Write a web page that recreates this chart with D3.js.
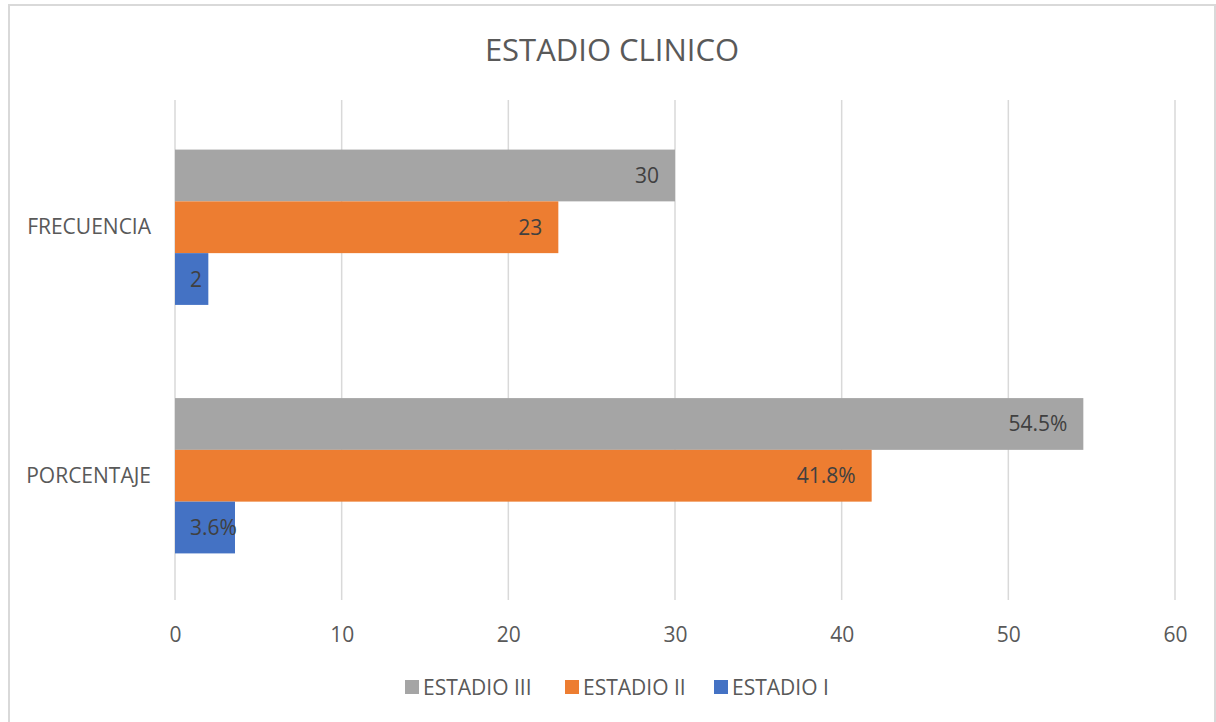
<!DOCTYPE html>
<html>
<head>
<meta charset="utf-8">
<script src="https://cdn.jsdelivr.net/npm/d3@7/dist/d3.min.js"></script>
<style>
  html, body { margin: 0; padding: 0; background: #fff; }
  svg { display: block; font-family: "Open Sans", "Noto Sans", sans-serif; }
</style>
</head>
<body>
<svg id="chart" width="1216" height="722"></svg>
<script>
// Clinical stage distribution: counts and percentages per stage
const categories = ["FRECUENCIA", "PORCENTAJE"];
const seriesNames = ["ESTADIO III", "ESTADIO II", "ESTADIO I"];
const seriesColors = ["#a5a5a5", "#ed7d31", "#4472c4"];
const estadioIII = [30, 54.5];
const estadioII = [23, 41.8];
const estadioI = [2, 3.6];
const valueLabels = [["30", "54.5%"], ["23", "41.8%"], ["2", "3.6%"]];
const xTicks = [0, 10, 20, 30, 40, 50, 60];

const seriesValues = [estadioIII, estadioII, estadioI];

const svg = d3.select("#chart");
const W = 1216, H = 722;
const plot = { left: 175, right: 1175, top: 103, bottom: 600 };
const FS = "21px";

// Outer chart frame
svg.append("path")
  .attr("d", `M9,${H} V5 H1215 V${H}`)
  .attr("fill", "none")
  .attr("stroke", "#d9d9d9")
  .attr("stroke-width", 2);

// Title
svg.append("text")
  .attr("x", 612).attr("y", 61)
  .attr("text-anchor", "middle")
  .attr("fill", "#595959")
  .style("font-size", "31px")
  .text("ESTADIO CLINICO");

const x = d3.scaleLinear().domain([0, 60]).range([plot.left, plot.right]);
const y0 = d3.scaleBand().domain(categories).range([plot.top, plot.bottom]).paddingInner(0).paddingOuter(0);
const y1 = d3.scaleBand().domain(seriesNames).range([0, y0.bandwidth()]).paddingInner(0).paddingOuter(0.9);

// Vertical gridlines
svg.append("g").selectAll("line").data(xTicks).join("line")
  .attr("x1", d => x(d)).attr("x2", d => x(d))
  .attr("y1", 100).attr("y2", plot.bottom)
  .attr("stroke", "#d9d9d9").attr("stroke-width", 1.5);

// X axis tick labels
const xAxis = d3.axisBottom(x).tickValues(xTicks).tickSize(0).tickPadding(0);
const gx = svg.append("g").attr("transform", `translate(0,${plot.bottom + 42})`).call(xAxis);
gx.select(".domain").remove();
gx.selectAll("text")
  .attr("dy", 0)
  .attr("fill", "#595959")
  .style("font-size", FS)
  .style("font-family", "'Open Sans', 'Noto Sans', sans-serif");

// Category labels
svg.append("g").selectAll("text").data(categories).join("text")
  .attr("x", plot.left - 24)
  .attr("y", d => y0(d) + y0.bandwidth() / 2 + 7)
  .attr("text-anchor", "end")
  .attr("fill", "#595959")
  .style("font-size", FS)
  .text(d => d);

// Bars and data labels
const barLayer = svg.append("g");
const labelLayer = svg.append("g");
seriesNames.forEach((name, si) => {
  categories.forEach((cat, ci) => {
    const v = seriesValues[si][ci];
    const yy = y0(cat) + y1(name);
    const h = y1.bandwidth();
    barLayer.append("rect")
      .attr("x", x(0)).attr("y", yy)
      .attr("width", x(v) - x(0)).attr("height", h)
      .attr("fill", seriesColors[si]);
    const t = labelLayer.append("text")
      .attr("y", yy + h / 2 + 7.5)
      .attr("fill", "#404040")
      .style("font-size", FS)
      .text(valueLabels[si][ci]);
    const tw = t.node().getComputedTextLength();
    const xs = Math.max(x(v) - 16 - tw, x(0) + 15);
    t.attr("x", xs);
  });
});

// Legend
const legendItems = [
  { name: "ESTADIO III", color: seriesColors[0], x: 405 },
  { name: "ESTADIO II", color: seriesColors[1], x: 565 },
  { name: "ESTADIO I", color: seriesColors[2], x: 714 }
];
const lg = svg.append("g");
legendItems.forEach(it => {
  lg.append("rect").attr("x", it.x).attr("y", 680).attr("width", 14).attr("height", 14).attr("fill", it.color);
  lg.append("text").attr("x", it.x + 18).attr("y", 695)
    .attr("fill", "#595959").style("font-size", FS).text(it.name);
});
</script>
</body>
</html>
